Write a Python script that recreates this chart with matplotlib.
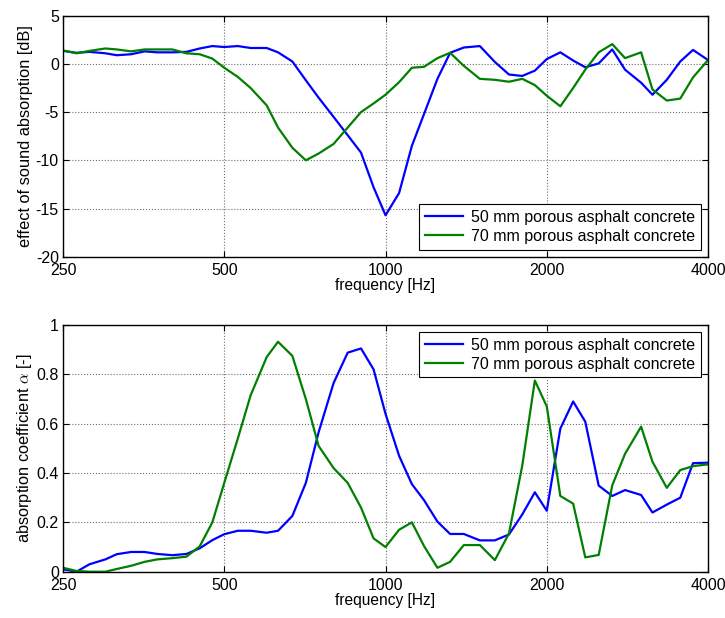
import matplotlib
matplotlib.use("Agg")
import matplotlib.pyplot as plt
from matplotlib.ticker import FixedLocator, FixedFormatter, NullLocator, FuncFormatter

plt.rcParams['font.family'] = ['Liberation Sans', 'DejaVu Sans']
plt.rcParams['mathtext.fontset'] = 'cm'
plt.rcParams['axes.unicode_minus'] = False

freq = [250, 265, 280, 300, 315, 335, 355, 375, 400, 425, 450, 475,
        500, 530, 560, 600, 630, 670, 710, 750, 800, 850, 900, 950,
        1000, 1060, 1120, 1180, 1250, 1320, 1400, 1500, 1600, 1700, 1800, 1900,
        2000, 2120, 2240, 2360, 2500, 2650, 2800, 3000, 3150, 3350, 3550, 3750, 4000]

effect_50 = [1.35, 1.15, 1.25, 1.1, 0.9, 1.0, 1.3, 1.2, 1.2, 1.25, 1.6, 1.85,
             1.75, 1.85, 1.65, 1.65, 1.2, 0.25, -1.7, -3.5, -5.5, -7.4, -9.2, -12.8,
             -15.7, -13.4, -8.5, -5.2, -1.55, 1.15, 1.7, 1.85, 0.2, -1.1, -1.25, -0.7,
             0.5, 1.2, 0.35, -0.35, 0.05, 1.5, -0.6, -1.95, -3.2, -1.65, 0.25, 1.45, 0.4]

effect_70 = [1.4, 1.1, 1.35, 1.6, 1.5, 1.3, 1.5, 1.5, 1.5, 1.1, 1.0, 0.55,
             -0.4, -1.35, -2.5, -4.3, -6.6, -8.7, -10.0, -9.3, -8.3, -6.6, -5.0, -4.1,
             -3.2, -1.9, -0.4, -0.3, 0.6, 1.15, -0.2, -1.55, -1.65, -1.85, -1.55, -2.2,
             -3.3, -4.4, -2.5, -0.6, 1.2, 2.05, 0.6, 1.2, -2.65, -3.8, -3.6, -1.4, 0.4]

alpha_50 = [0.01, 0.0, 0.03, 0.05, 0.071, 0.08, 0.08, 0.072, 0.067, 0.072, 0.095, 0.128,
            0.152, 0.166, 0.166, 0.158, 0.166, 0.226, 0.36, 0.565, 0.765, 0.888, 0.905, 0.82,
            0.64, 0.47, 0.355, 0.29, 0.203, 0.153, 0.153, 0.127, 0.127, 0.151, 0.232, 0.322,
            0.247, 0.58, 0.69, 0.608, 0.349, 0.307, 0.331, 0.311, 0.24, 0.272, 0.30, 0.44, 0.442]

alpha_70 = [0.016, 0.003, 0.0, 0.0, 0.011, 0.024, 0.04, 0.05, 0.055, 0.061, 0.103, 0.2,
            0.36, 0.54, 0.715, 0.87, 0.932, 0.875, 0.70, 0.51, 0.42, 0.36, 0.26, 0.135,
            0.10, 0.17, 0.2, 0.104, 0.016, 0.04, 0.108, 0.108, 0.047, 0.155, 0.43, 0.775,
            0.67, 0.307, 0.276, 0.058, 0.068, 0.35, 0.478, 0.588, 0.446, 0.34, 0.412, 0.428, 0.435]

labels = ['50 mm porous asphalt concrete', '70 mm porous asphalt concrete']
xticks = [250, 500, 1000, 2000, 4000]
xticklabels = ['250', '500', '1000', '2000', '4000']

FS = 11.5
fig = plt.figure(figsize=(7.25, 6.18), dpi=100)
ax1 = fig.add_axes([0.0869, 0.5846, 0.8897, 0.39])
ax2 = fig.add_axes([0.0869, 0.0749, 0.8897, 0.3992])

def style(ax):
    ax.set_xscale('log')
    ax.set_xlim(250, 4000)
    ax.xaxis.set_major_locator(FixedLocator(xticks))
    ax.xaxis.set_major_formatter(FixedFormatter(xticklabels))
    ax.xaxis.set_minor_locator(NullLocator())
    ax.grid(True, which='major', color='#6f6f6f', linestyle=':', linewidth=0.8)
    ax.tick_params(direction='in', top=True, right=True, length=4, width=0.8,
                   labelsize=FS, pad=3)
    ax.tick_params(axis='x', pad=4.5)
    for s in ax.spines.values():
        s.set_linewidth(1.0)
    ax.set_xlabel('frequency [Hz]', fontsize=FS - 0.3, labelpad=0)

ax1.plot(freq, effect_50, color=(0, 0, 1), lw=1.6, label=labels[0])
ax1.plot(freq, effect_70, color=(0, 0.5, 0), lw=1.6, label=labels[1])
style(ax1)
ax1.set_ylim(-20, 5)
ax1.set_yticks([-20, -15, -10, -5, 0, 5])
ax1.set_ylabel('effect of sound absorption [dB]', fontsize=11.8, labelpad=2)
leg1 = ax1.legend(loc='lower right', fontsize=FS, frameon=True, fancybox=False,
                  edgecolor='black', framealpha=1, handlelength=2.4,
                  borderpad=0.35, labelspacing=0.25, borderaxespad=0.45, handletextpad=0.5)
leg1.get_frame().set_linewidth(0.8)

ax2.plot(freq, alpha_50, color=(0, 0, 1), lw=1.6, label=labels[0])
ax2.plot(freq, alpha_70, color=(0, 0.5, 0), lw=1.6, label=labels[1])
style(ax2)
ax2.set_ylim(0, 1)
ax2.set_yticks([0, 0.2, 0.4, 0.6, 0.8, 1.0])
ax2.yaxis.set_major_formatter(FuncFormatter(lambda v, p: ('%g' % round(v, 2))))
ax2.set_ylabel(r'absorption coefficient $\alpha$ [-]', fontsize=11.8, labelpad=2)
leg2 = ax2.legend(loc='upper right', fontsize=FS, frameon=True, fancybox=False,
                  edgecolor='black', framealpha=1, handlelength=2.4,
                  borderpad=0.35, labelspacing=0.25, borderaxespad=0.45, handletextpad=0.5)
leg2.get_frame().set_linewidth(0.8)

fig.savefig('out.png', dpi=100)
